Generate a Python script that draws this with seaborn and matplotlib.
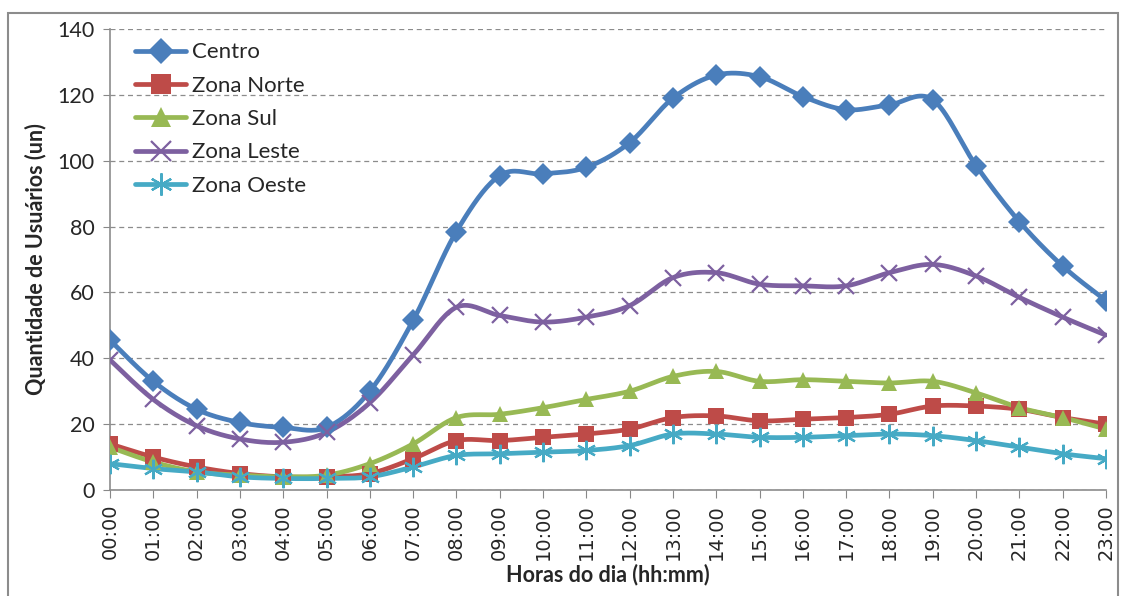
import numpy as np
import pandas as pd
import matplotlib
matplotlib.use("Agg")
import matplotlib.pyplot as plt
import matplotlib.patches as mpatches
import seaborn as sns

hours = ["00:00", "01:00", "02:00", "03:00", "04:00", "05:00", "06:00", "07:00",
         "08:00", "09:00", "10:00", "11:00", "12:00", "13:00", "14:00", "15:00",
         "16:00", "17:00", "18:00", "19:00", "20:00", "21:00", "22:00", "23:00"]

centro = [45.5, 33, 24.5, 20.5, 19, 19, 30, 51.5, 78.5, 95.5, 96, 98, 105.5, 119,
          126, 125.5, 119.5, 115.5, 117, 118.5, 98.5, 81.5, 68, 57.5]
zona_norte = [14, 10, 7, 5, 4, 4, 5, 9.5, 15, 15, 16, 17, 18.5, 22, 22.5, 21,
              21.5, 22, 23, 25.5, 25.5, 24.5, 22, 20]
zona_sul = [13, 8.5, 5.5, 4.5, 4, 4.5, 8, 14, 22, 23, 25, 27.5, 30, 34.5, 36, 33,
            33.5, 33, 32.5, 33, 29.5, 25, 22, 18.5]
zona_leste = [39.5, 27.5, 19.5, 15.5, 14.5, 17.5, 26.5, 41, 55.5, 53, 51, 52.5,
              56, 64.5, 66, 62.5, 62, 62, 66, 68.5, 65, 58.5, 52.5, 47]
zona_oeste = [8, 6.5, 5.5, 4, 3.5, 3.5, 4, 7, 10.5, 11, 11.5, 12, 13.5, 17, 17,
              16, 16, 16.5, 17, 16.5, 15, 13, 11, 9.5]

series_names = ["Centro", "Zona Norte", "Zona Sul", "Zona Leste", "Zona Oeste"]
series_vals = [centro, zona_norte, zona_sul, zona_leste, zona_oeste]
colors = ["#4A7EBB", "#BE4B48", "#98B954", "#7D60A0", "#46AAC5"]
markers = ["D", "s", "^", "x", "*"]

sns.set_style("white")
plt.rcParams["font.family"] = ["Lato", "DejaVu Sans"]

fig = plt.figure(figsize=(11.25, 5.96), dpi=100)
ax = fig.add_axes([110 / 1125, 1 - 490 / 596, (1106 - 110) / 1125, (490 - 29) / 596])


def smooth(y, n=20):
    """Bezier smoothing through the points (Excel-style smoothed line)."""
    y = np.asarray(y, float)
    x = np.arange(len(y), dtype=float)
    pts = np.column_stack([x, y])
    out = []
    for i in range(len(pts) - 1):
        p0 = pts[i - 1] if i > 0 else pts[i]
        p1 = pts[i]
        p2 = pts[i + 1]
        p3 = pts[i + 2] if i + 2 < len(pts) else pts[i + 1]
        c1 = p1 + (p2 - p0) / 6
        c2 = p2 - (p3 - p1) / 6
        t = np.linspace(0, 1, n, endpoint=(i == len(pts) - 2))[:, None]
        seg = ((1 - t) ** 3) * p1 + 3 * ((1 - t) ** 2) * t * c1 + 3 * (1 - t) * t ** 2 * c2 + t ** 3 * p2
        out.append(seg)
    out = np.vstack(out)
    return out[:, 0], out[:, 1]


handles = []
for name, vals, col, mk in zip(series_names, series_vals, colors, markers):
    sx, sy = smooth(vals)
    df = pd.DataFrame({"x": sx, "y": sy})
    sns.lineplot(data=df, x="x", y="y", ax=ax, color=col, lw=3.4, sort=False,
                 zorder=3, estimator=None)
    xs = np.arange(len(vals))
    if mk in ("x", "*"):
        ms = 12 if mk == "x" else 14
        m = "x" if mk == "x" else (6, 2, 0)
        ax.plot(xs, vals, linestyle="none", marker=m,
                markersize=ms, markeredgewidth=1.6, color=col, zorder=4)
        h, = ax.plot([], [], color=col, lw=3.4, marker=m,
                     markersize=ms + 2, markeredgewidth=1.6)
    else:
        ms = {"D": 11, "s": 12, "^": 12}[mk]
        ax.plot(xs, vals, linestyle="none", marker=mk, markersize=ms,
                markeredgewidth=0, color=col, zorder=4)
        h, = ax.plot([], [], color=col, lw=3.4, marker=mk, markersize=ms + 2,
                     markeredgewidth=0)
    handles.append(h)

ax.set_xlim(0, len(hours) - 1)
ax.set_ylim(0, 140)
ax.set_yticks(np.arange(0, 141, 20))
ax.set_xticks(np.arange(len(hours)))
ax.set_xticklabels(hours, rotation=90, fontsize=14, family=["DejaVu Sans"])
ax.tick_params(axis="y", labelsize=15.5, length=5, direction="out", color="#888888",
               left=True, pad=6)
ax.tick_params(axis="x", length=6, direction="out", color="#888888", bottom=True, pad=4)

ax.grid(axis="y", linestyle=(0, (4, 3)), color="#8c8c8c", lw=0.9)
ax.grid(axis="x", visible=False)
ax.set_axisbelow(True)
for s in ["top", "right"]:
    ax.spines[s].set_visible(False)
for s in ["left", "bottom"]:
    ax.spines[s].set_color("#8c8c8c")
    ax.spines[s].set_linewidth(1.2)

ax.set_xlabel("Horas do dia (hh:mm)", fontsize=15.5, fontweight="bold", labelpad=3)
ax.set_ylabel("Quantidade de Usuários (un)", fontsize=15.5, fontweight="bold", labelpad=8)

leg = ax.legend(handles, series_names, loc="upper left", frameon=False, fontsize=16,
                bbox_to_anchor=(0.012, 1.0), handlelength=2.3, labelspacing=0.6,
                borderaxespad=0.2, handletextpad=0.25)

fig.patches.append(mpatches.Rectangle((8 / 1125, -0.01), (1118 - 8) / 1125, 1 - 13 / 596 + 0.01,
                                      transform=fig.transFigure, fill=False,
                                      edgecolor="#8c8c8c", lw=1.5))

fig.savefig("out.png", dpi=100)
